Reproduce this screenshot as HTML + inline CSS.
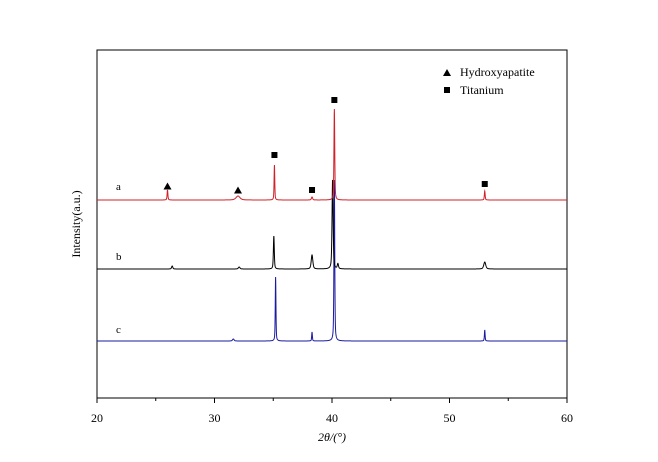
<!DOCTYPE html>
<html><head><meta charset="utf-8"><style>
body{margin:0;background:#fff}
svg{display:block;font-family:"Liberation Serif",serif}
</style></head><body>
<svg width="658" height="462">
<rect x="97" y="50" width="470" height="348" fill="none" stroke="#000" stroke-width="1"/>
<g id="ticks"></g>
<g id="series"></g>
<g id="markers"></g>
<text x="332" y="441" font-size="12" text-anchor="middle" font-style="italic">2θ/(°)</text>
<text transform="translate(80,224) rotate(-90)" font-size="12" text-anchor="middle">Intensity(a.u.)</text>
<text x="116" y="190" font-size="11">a</text>
<text x="116" y="260" font-size="11">b</text>
<text x="116" y="333" font-size="11">c</text>
<polygon points="443,76 447,69 451,76" fill="#000"/>
<text x="460" y="76" font-size="12">Hydroxyapatite</text>
<rect x="444" y="87" width="6" height="6" fill="#000"/>
<text x="460" y="94" font-size="12">Titanium</text>
</svg>
<script>
const xTicks=[20,30,40,50,60];
const xMinor=[25,35,45,55];
const baseA=198, baseB=129, baseC=57;
const posA=[26.0,32.0,35.1,38.3,40.2,53.0];
const hA=[10,4,35,3,91,9];
const wA=[0.04,0.2,0.035,0.06,0.04,0.04];
const posB=[26.4,32.1,35.05,38.3,40.05,40.5,53.0];
const hB=[3,2,33,14,89,5,7];
const wB=[0.06,0.08,0.045,0.08,0.055,0.06,0.1];
const posC=[31.6,35.2,38.3,40.2,53.0];
const hC=[2,64,9,161,11];
const wC=[0.08,0.035,0.035,0.04,0.035];
const triX=[26.0,32.0];
const triY=[212,208];
const sqX=[35.1,38.3,40.2,53.0];
const sqY=[243,208,298,214];
const X=v=>97+(v-20)*470/40;
const Y=v=>398-v;
const NS='http://www.w3.org/2000/svg';
const tg=document.getElementById('ticks');
xTicks.forEach(t=>{
 const l=document.createElementNS(NS,'line');
 l.setAttribute('x1',X(t));l.setAttribute('x2',X(t));l.setAttribute('y1',398);l.setAttribute('y2',403);l.setAttribute('stroke','#000');
 
 
 tg.appendChild(l);
 const tx=document.createElementNS(NS,'text');
 tx.setAttribute('x',X(t));tx.setAttribute('y',422);tx.setAttribute('font-size','12');tx.setAttribute('text-anchor','middle');
 tx.textContent=t;
 
 
 tg.appendChild(tx);
});
xMinor.forEach(t=>{
 const l=document.createElementNS(NS,'line');
 l.setAttribute('x1',X(t));l.setAttribute('x2',X(t));l.setAttribute('y1',398);l.setAttribute('y2',401);l.setAttribute('stroke','#000');
 
 
 tg.appendChild(l);
});
function curve(base,pos,h,w){
 let d='';
 for(let x=20;x<=60.0001;x+=0.01){
  let v=base;
  for(let i=0;i<pos.length;i++){const u=(x-pos[i])/w[i];v+=h[i]*(0.5/(1+u*u)+0.5*Math.exp(-0.693*u*u));}
  d+=(d?'L':'M')+X(x).toFixed(2)+','+Y(v).toFixed(2);
 }
 return d;
}
const sg=document.getElementById('series');
[[baseC,posC,hC,wC,'#1a1aa0','series-c'],[baseB,posB,hB,wB,'#000','series-b'],[baseA,posA,hA,wA,'#d0202a','series-a']].forEach(s=>{
 const p=document.createElementNS(NS,'path');
 p.setAttribute('d',curve(s[0],s[1],s[2],s[3]));
 p.setAttribute('fill','none');p.setAttribute('stroke',s[4]);p.setAttribute('stroke-width','1');
 
 
 sg.appendChild(p);
});
const mg=document.getElementById('markers');
triX.forEach((t,i)=>{
 const x=X(t),y=Y(triY[i]);
 const p=document.createElementNS(NS,'polygon');
 p.setAttribute('points',`${x-4},${y+3.5} ${x},${y-3.5} ${x+4},${y+3.5}`);
 
 
 mg.appendChild(p);
});
sqX.forEach((t,i)=>{
 const x=X(t),y=Y(sqY[i]);
 const r=document.createElementNS(NS,'rect');
 r.setAttribute('x',x-3);r.setAttribute('y',y-3);r.setAttribute('width',6);r.setAttribute('height',6);
 
 
 mg.appendChild(r);
});
</script>
</body></html>
